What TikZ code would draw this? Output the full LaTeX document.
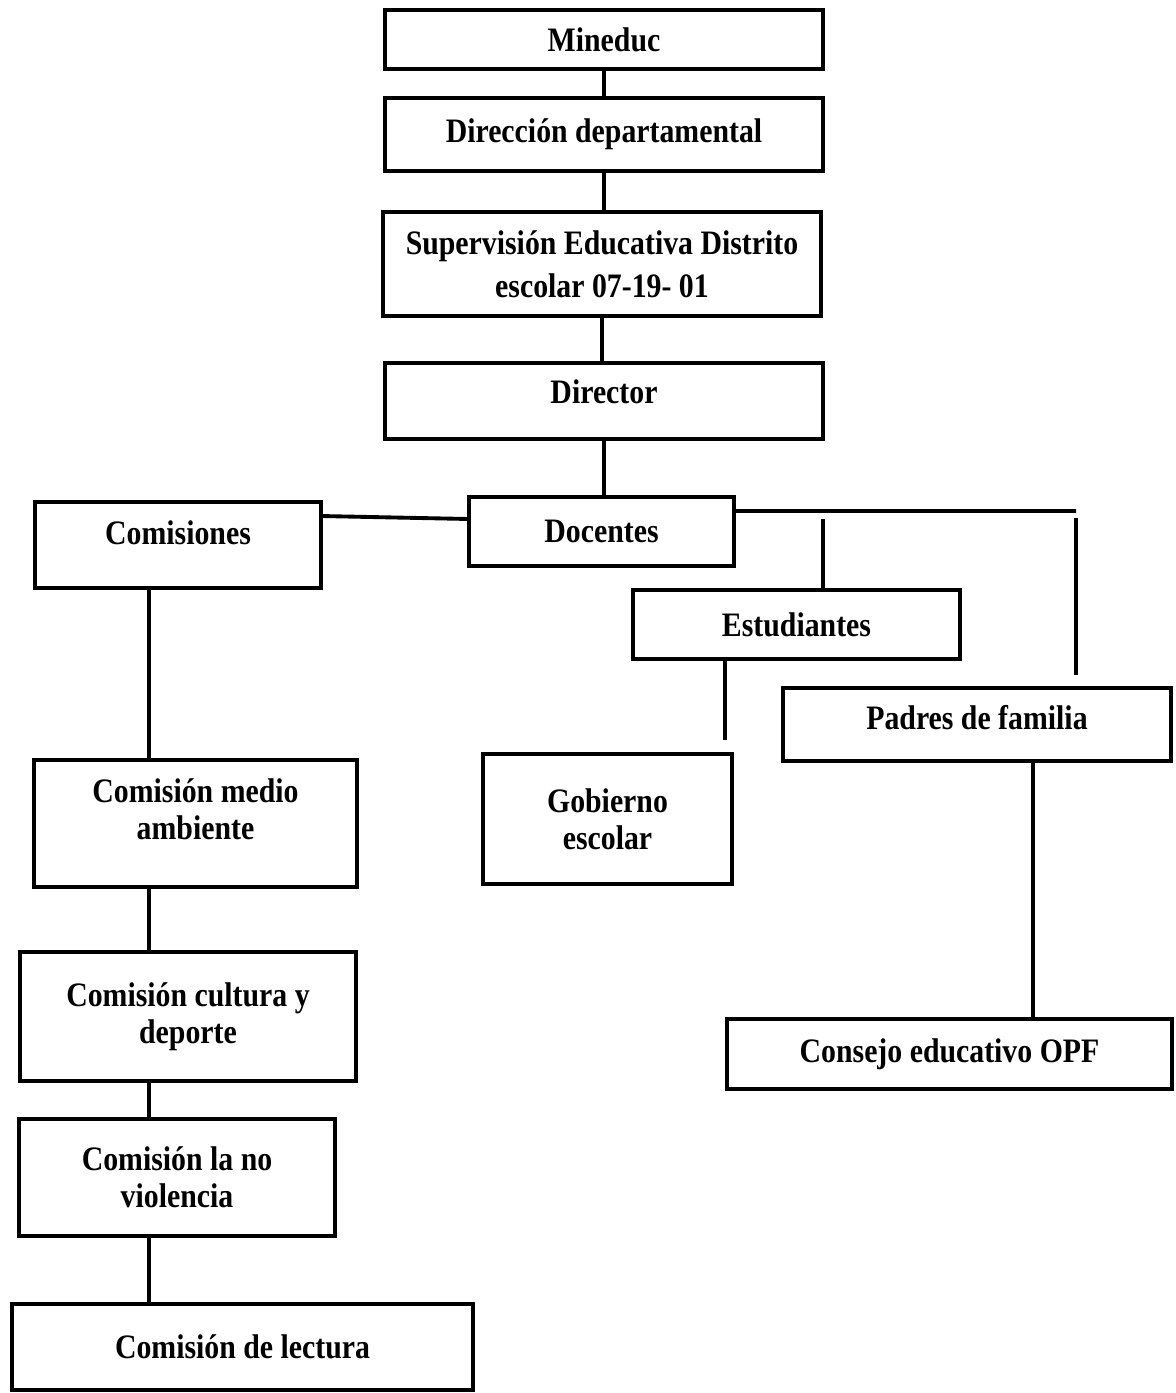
\documentclass[tikz,border=0pt]{standalone}
\usepackage{fontspec}
\setmainfont{Liberation Serif}[FakeStretch=0.87]
\usepackage{tikz}

\begin{document}
\begin{tikzpicture}
[x = 0.02cm, y = -0.02cm, line width = 2.2pt,
 caja/.style = {shape = rectangle, draw, align = center, inner sep = 0pt, outer sep = 0pt,
   font = \bfseries\fontsize{19.5}{21}\selectfont},
 sube/.style = {text depth = #1}]
\useasboundingbox (0,0) rectangle (1176,1393);
% cadena central
\node[caja, minimum width = 8.76cm, minimum height = 1.18cm] (mineduc) at (604,39.5) {Mineduc};
\node[caja, minimum width = 8.76cm, minimum height = 1.46cm] (direccion) at (604,134.5) {Dirección departamental};
\node[caja, minimum width = 8.76cm, minimum height = 2.08cm, font = \bfseries\fontsize{19.5}{24.5}\selectfont] (supervision) at (602,264) {Supervisión Educativa Distrito\\escolar 07-19- 01};
\node[caja, sube = 0.36cm, minimum width = 8.76cm, minimum height = 1.52cm] (director) at (604,401) {Director};
\node[caja, minimum width = 5.30cm, minimum height = 1.38cm] (docentes) at (601.5,531.5) {Docentes};
% comisiones
\node[caja, sube = 0.48cm, minimum width = 5.72cm, minimum height = 1.72cm] (comisiones) at (178,545) {Comisiones};
\node[caja, sube = 0.56cm, minimum width = 6.46cm, minimum height = 2.54cm] (medio) at (195.5,823.5) {Comisión medio\\ambiente};
\node[caja, minimum width = 6.72cm, minimum height = 2.58cm] (cultura) at (188,1016.5) {Comisión cultura y\\deporte};
\node[caja, minimum width = 6.32cm, minimum height = 2.34cm] (noviolencia) at (177,1177.5) {Comisión la no\\violencia};
\node[caja, minimum width = 9.22cm, minimum height = 1.72cm] (lectura) at (242.5,1347) {Comisión de lectura};
% estudiantes y padres
\node[caja, minimum width = 6.54cm, minimum height = 1.38cm] (estudiantes) at (796.5,624.5) {Estudiantes};
\node[caja, minimum width = 4.98cm, minimum height = 2.60cm] (gobierno) at (607.5,819) {Gobierno\\escolar};
\node[caja, sube = 0.28cm, minimum width = 7.76cm, minimum height = 1.46cm] (padres) at (977,724.5) {Padres de familia};
\node[caja, minimum width = 8.90cm, minimum height = 1.40cm] (consejo) at (949.5,1054) {Consejo educativo OPF};
% puntos libres
\coordinate (esquina) at (1076,511);
\coordinate (ramaE) at (823,519);
\coordinate (ramaP) at (1076,518);
\coordinate (finP) at (1076,675);
\coordinate (finG) at (725,740);
\coordinate (ejeC) at (149,600);
\coordinate (ejeP) at (1033,900);
% conexiones
\draw (mineduc) -- (direccion);
\draw (direccion.south) -- (direccion.south |- supervision.north);
\draw (supervision.south) -- (supervision.south |- director.north);
\draw (director.south) -- (director.south |- docentes.north);
\draw ([yshift=0.58cm]comisiones.east) -- ([yshift=0.25cm]docentes.west);
\draw ([yshift=0.41cm]docentes.east) -- (esquina);
\draw (ramaE) -- (ramaE |- estudiantes.north);
\draw (ramaP) -- (finP);
\draw (finG |- estudiantes.south) -- (finG);
\draw (comisiones.south -| ejeC) -- (medio.north -| ejeC);
\draw (medio.south -| ejeC) -- (cultura.north -| ejeC);
\draw (cultura.south -| ejeC) -- (noviolencia.north -| ejeC);
\draw (noviolencia.south -| ejeC) -- (lectura.north -| ejeC);
\draw (padres.south -| ejeP) -- (consejo.north -| ejeP);
\end{tikzpicture}
\end{document}
